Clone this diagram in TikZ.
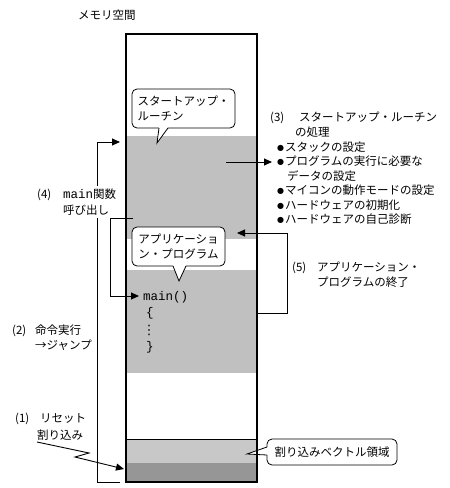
\documentclass[tikz,border=0pt]{standalone}
\usepackage{fontspec}
\setmainfont{Noto Sans CJK JP}
\newfontfamily\monof{Liberation Mono}
\newfontfamily\dejavu{DejaVu Sans}
\usetikzlibrary{arrows.meta}
\definecolor{midgray}{RGB}{192,192,192}
\definecolor{vecgray}{RGB}{200,200,200}
\definecolor{deepgray}{RGB}{150,150,150}
\newcommand\bul{\makebox[8pt][l]{\raisebox{1pt}{\dejavu\fontsize{8}{8}\selectfont ●}}}
\newcommand\mono{\monof\fontsize{12.5}{14}\selectfont}
\begin{document}
\begin{tikzpicture}[x=1pt,y=-1pt,
  lbl/.style={font=\fontsize{11.5}{14}\selectfont, inner sep=0pt, anchor=west},
  code/.style={font=\mono, inner sep=0pt, anchor=west},
  bubble/.style={draw, fill=white, rounded corners=5pt, line width=0.8pt, inner sep=0pt, align=left, font=\fontsize{11.5}{15}\selectfont},
  conn/.style={line width=0.9pt, -{Triangle[length=8pt,width=7pt]}},
  tail/.style={line width=0.8pt},
  ]
\useasboundingbox (0,0) rectangle (450,488);
% memory regions
\fill[midgray] (126,136) rectangle (257,239);
\fill[midgray] (126,270) rectangle (257,373);
\fill[vecgray] (126,439) rectangle (257,463);
\fill[deepgray] (126,463) rectangle (257,482);
\draw[line width=0.8pt] (126,439) -- (257,439);

% title
\node[lbl] (title) at (78,15) {メモリ空間};

% (2) bracket
\coordinate (c2s) at (120,482);
\coordinate (c2e) at (120,142);
\draw[conn] (c2s) -- (97,482) -- (97,142) -- (c2e);

% (4) label
\node[lbl, fill=white, inner ysep=3pt, inner xsep=1pt] (t4a) at (36,195) {\makebox[26pt][l]{(4)}{\mono main}関数};
\node[lbl, fill=white, inner ysep=3pt, inner xsep=1pt] (t4b) at (62,210) {呼び出し};

% code
\node[code] (m0) at (143,297) {main()};
\node[code] (m1) at (146,313) {\{};
\node[inner sep=0pt, font=\dejavu\fontsize{13}{13}\selectfont] (m2) at (149,330) {⋮};
\node[code] (m3) at (146,347) {\}};

% (4) bracket
\coordinate (c4s) at (133,218);
\coordinate (c4e) at (139,296);
\draw[conn] (c4s) -- (110,218) -- (110,296) -- (c4e);

% (2) and (1) labels
\node[lbl] (t2a) at (12,331) {\makebox[23pt][l]{(2)}命令実行};
\node[lbl] (t2b) at (35,345) {→ジャンプ};
\node[lbl] (t1a) at (15,419) {\makebox[25pt][l]{(1)}リセット};
\node[lbl] (t1b) at (37,435) {割り込み};
\coordinate (c1s) at (37,442);
\coordinate (c1e) at (124,469);
\draw[conn] (c1s) -- (89,453) -- (75,457) -- (c1e);

% (3) labels
\node[lbl] (t3a) at (270,118) {\makebox[29pt][l]{(3)}スタートアップ・ルーチン};
\node[lbl] (t3b) at (295,132.5) {の処理};
\node[lbl] (t3c) at (277,147) {\bul スタックの設定};
\node[lbl] (t3d) at (277,161.5) {\bul プログラムの実行に必要な};
\node[lbl] (t3e) at (287,176) {データの設定};
\node[lbl] (t3f) at (277,190.5) {\bul マイコンの動作モードの設定};
\node[lbl] (t3g) at (277,205) {\bul ハードウェアの初期化};
\node[lbl] (t3h) at (277,219.5) {\bul ハードウェアの自己診断};
\coordinate (c3s) at (226,162);
\coordinate (c3e) at (272,162);
\draw[conn] (c3s) -- (c3e);

% (5)
\node[lbl] (t5a) at (292,268) {\makebox[25pt][l]{(5)}アプリケーション・};
\node[lbl] (t5b) at (317,282) {プログラムの終了};
\coordinate (c5s) at (257,313);
\coordinate (c5e) at (237,233);
\draw[conn] (c5s) -- (287,313) -- (287,233) -- (c5e);

% bubbles
\node[bubble, minimum width=103pt, minimum height=39pt] (b1) at (183.5,108.5) {スタートアップ・\\ルーチン};
\fill[white] (159,127) -- (157,143) -- (168,127) -- cycle;
\draw[tail] (159,128) -- (157,143) -- (168,128);

\node[bubble, minimum width=93pt, minimum height=39pt] (b2) at (178.5,246.5) {アプリケーショ\\ン・プログラム};
\fill[white] (173,265) -- (179,281) -- (186,265) -- cycle;
\draw[tail] (173,266) -- (179,281) -- (186,266);

\node[bubble, minimum width=130pt, minimum height=26pt] (b3) at (332,452) {割り込みベクトル領域};
\fill[white] (268,447) -- (247,454) -- (268,455) -- cycle;
\draw[tail] (267,447) -- (247,454) -- (267,455);

% memory box border
\node[draw, line width=1.6pt, minimum width=131pt, minimum height=448pt, inner sep=0pt] (mem) at (191.5,258) {};
\end{tikzpicture}
\end{document}
